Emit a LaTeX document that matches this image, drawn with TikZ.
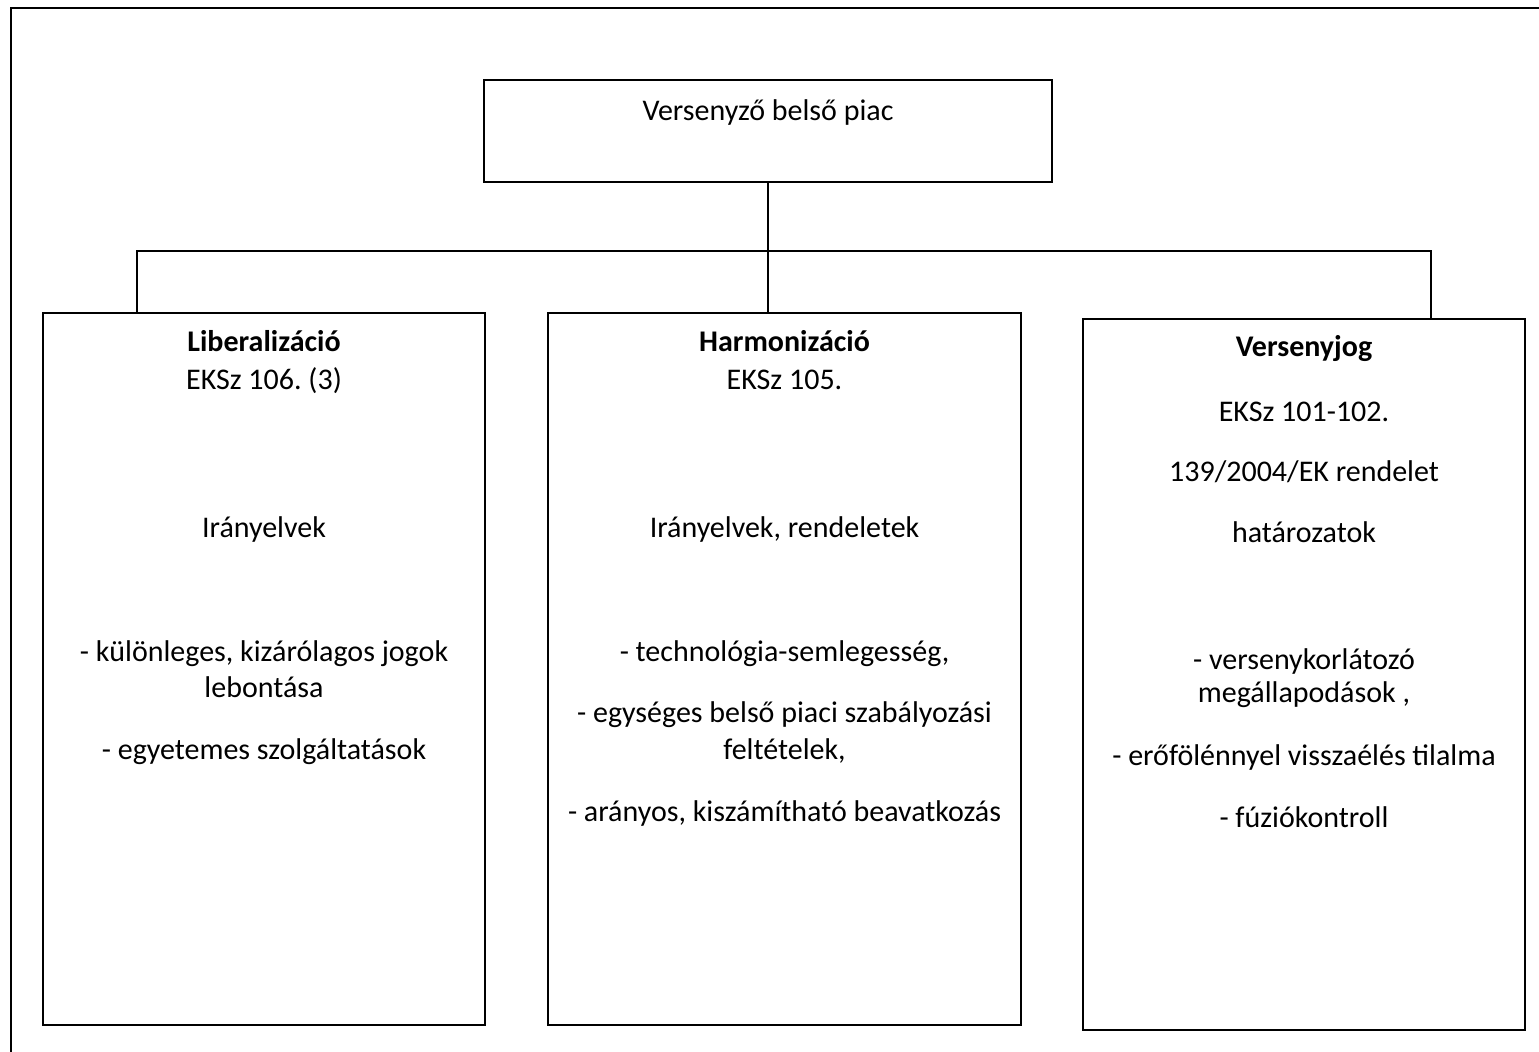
\documentclass[tikz,border=0pt]{standalone}
\usepackage{fontspec}
\setmainfont{Carlito}
\frenchspacing
\usetikzlibrary{positioning}
\tikzset{
	boxnode/.style={draw, rectangle, line width=1.1pt, inner sep=0pt},
	txt/.style={anchor=base, align=center, font=\fontsize{22.5}{27}\selectfont},
	link/.style={line width=1.1pt}
}

\begin{document}
\begin{tikzpicture}[x=0.75pt, y=-0.75pt]
			%%%%% START %%%%%
			\useasboundingbox (0,0) rectangle (1539,1052);
			
			\draw[line width=1.6pt] (11,1060) -- (11,8) -- (1545,8);
			
			\node[boxnode, minimum width=426pt, minimum height=76.5pt] (top) at (768,131) {};
			\node[txt] (toptxt) at (768,121) {Versenyző belső piac};
			
			\node[boxnode, minimum width=331.5pt, minimum height=534pt] (lib) at (264,669) {};
			\node[boxnode, minimum width=354.75pt, minimum height=534pt] (harm) at (784.5,669) {};
			\node[boxnode, minimum width=331.5pt, minimum height=533.25pt] (vers) at (1304,674.5) {};
			
			\coordinate (hubl) at (137,251);
			\coordinate (hubr) at (1431,251);
			\draw[link] (top.south) -- (top.south |- harm.north);
			\draw[link] (lib.north -| hubl) -- (hubl) -- (hubr) -- (vers.north -| hubr);
			
			% Liberalizacio
			\node[txt, font=\fontsize{22.5}{27}\selectfont\bfseries] (lib1) at (264,351) {Liberalizáció};
			\node[txt] (lib2) at (264,389) {EKSz 106. (3)};
			\node[txt] (lib3) at (264,537) {Irányelvek};
			\node[txt] (lib4) at (264,661) {- különleges, kizárólagos jogok};
			\node[txt] (lib5) at (264,697) {lebontása};
			\node[txt] (lib6) at (264,759) {- egyetemes szolgáltatások};
			
			% Harmonizacio
			\node[txt, font=\fontsize{22.5}{27}\selectfont\bfseries] (harm1) at (784.5,351) {Harmonizáció};
			\node[txt] (harm2) at (784.5,389) {EKSz 105.};
			\node[txt] (harm3) at (784.5,537) {Irányelvek, rendeletek};
			\node[txt] (harm4) at (784.5,661) {- technológia-semlegesség,};
			\node[txt] (harm5) at (784.5,722) {- egységes belső piaci szabályozási};
			\node[txt] (harm6) at (784.5,759) {feltételek,};
			\node[txt] (harm7) at (784.5,821) {- arányos, kiszámítható beavatkozás};
			
			% Versenyjog
			\node[txt, font=\fontsize{22.5}{27}\selectfont\bfseries] (vers1) at (1304,356) {Versenyjog};
			\node[txt] (vers2) at (1304,421) {EKSz 101-102.};
			\node[txt] (vers3) at (1304,481) {139/2004/EK rendelet};
			\node[txt] (vers4) at (1304,542) {határozatok};
			\node[txt] (vers5) at (1304,669) {- versenykorlátozó};
			\node[txt] (vers6) at (1304,702) {megállapodások ,};
			\node[txt] (vers7) at (1304,765) {- erőfölénnyel visszaélés tilalma};
			\node[txt] (vers8) at (1304,827) {- fúziókontroll};
			
			%%%%% END %%%%%
		\end{tikzpicture}
\end{document}
